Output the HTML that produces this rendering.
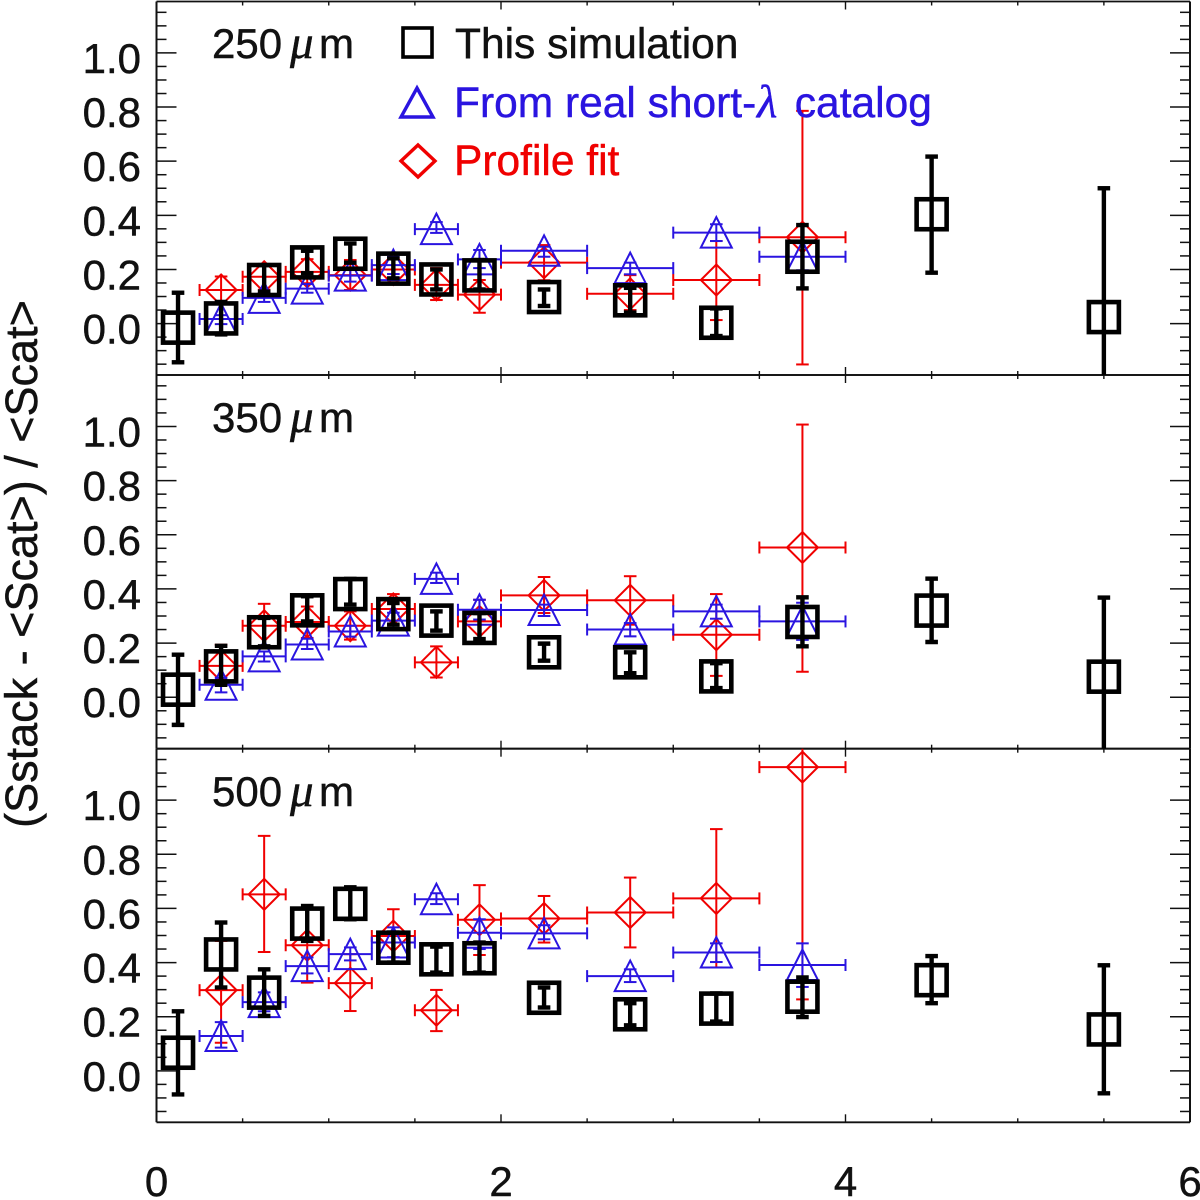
<!DOCTYPE html>
<html lang="en">
<head>
<meta charset="utf-8">
<title>Stacking flux bias versus flux</title>
<style>
html,body{margin:0;padding:0;background:#fff;}
svg{display:block;}
text{font-family:"Liberation Sans",sans-serif;stroke-width:.45;}
.sym{font-family:"Liberation Serif",serif;font-style:italic;font-size:47px;}
</style>
</head>
<body>
<svg id="chart" xmlns="http://www.w3.org/2000/svg" width="1200" height="1200" viewBox="0 0 1200 1200">
  <rect x="0" y="0" width="1200" height="1200" fill="#fff"/>
  <defs>
    <clipPath id="clip-0"><rect x="156.5" y="1.5" width="1033.5" height="373.5"/></clipPath>
    <clipPath id="clip-1"><rect x="156.5" y="375" width="1033.5" height="373.7"/></clipPath>
    <clipPath id="clip-2"><rect x="156.5" y="748.7" width="1033.5" height="373.6"/></clipPath>
  </defs>
  <g id="axes"></g>
  <g id="panel-0" clip-path="url(#clip-0)"></g>
  <g id="panel-1" clip-path="url(#clip-1)"></g>
  <g id="panel-2" clip-path="url(#clip-2)"></g>

  <text x="212" y="58" font-size="42" fill="#111" stroke="#111">250<tspan class="sym" x="290">μ</tspan><tspan x="319">m</tspan></text>
  <text x="212" y="432" font-size="42" fill="#111" stroke="#111">350<tspan class="sym" x="290">μ</tspan><tspan x="319">m</tspan></text>
  <text x="212" y="806" font-size="42" fill="#111" stroke="#111">500<tspan class="sym" x="290">μ</tspan><tspan x="319">m</tspan></text>

  <g>
    <rect x="403" y="28" width="29" height="29" fill="none" stroke="#000" stroke-width="3.6"/>
    <text x="455" y="58" font-size="42.5" fill="#111" stroke="#111">This simulation</text>
    <polygon points="417,88 433,117 401,117" fill="none" stroke="#2a14e0" stroke-width="3.4"/>
    <text x="454" y="117" font-size="42.5" fill="#2a14e0" stroke="#2a14e0">From real short-<tspan class="sym" x="757">λ</tspan><tspan x="783"> catalog</tspan></text>
    <polygon points="418,145 435,161 418,177 401,161" fill="none" stroke="#f00000" stroke-width="3.4"/>
    <text x="454" y="175" font-size="42.5" fill="#f00000" stroke="#f00000">Profile fit</text>
  </g>

  <text transform="translate(37,564) rotate(-90)" text-anchor="middle" font-size="45" fill="#111" stroke="#111">(Sstack - &lt;Scat&gt;) / &lt;Scat&gt;</text>

  <script>
  // ---- Data ----
  const simX = [0.125,0.375,0.625,0.875,1.125,1.375,1.625,1.875,2.25,2.75,3.25,3.75,4.5,5.5];
  const binX = [0.375,0.625,0.875,1.125,1.375,1.625,1.875,2.25,2.75,3.25,3.75];
  const binHalf = [0.125,0.125,0.125,0.125,0.125,0.125,0.125,0.25,0.25,0.25,0.25];

  const sim250 = [-0.015,0.019,0.161,0.226,0.258,0.203,0.163,0.178,0.098,0.086,0.003,0.247,0.404,0.024];
  const sim250Hi = [0.114,0.08,0.216,0.269,0.296,0.241,0.2,0.235,0.126,0.132,0.056,0.364,0.617,0.5];
  const sim250Lo = [-0.143,-0.04,0.118,0.186,0.225,0.167,0.126,0.126,0.065,0.041,-0.046,0.13,0.188,-0.45];
  const short250 = [0.017,0.095,0.129,0.177,0.216,0.349,0.237,0.269,0.205,0.336,0.247];
  const short250Hi = [0.031,0.114,0.146,0.2,0.247,0.375,0.272,0.284,0.225,0.367,0.297];
  const short250Lo = [-0.002,0.08,0.114,0.155,0.183,0.335,0.205,0.247,0.182,0.305,0.197];
  const fit250 = [0.124,0.173,0.191,0.179,0.2,0.143,0.107,0.225,0.11,0.161,0.319];
  const fit250Hi = [0.174,0.216,0.238,0.235,0.24,0.205,0.161,0.29,0.179,0.305,0.786];
  const fit250Lo = [0.074,0.125,0.149,0.124,0.16,0.087,0.04,0.16,0.05,0.013,-0.151];

  const sim350 = [0.028,0.114,0.24,0.321,0.381,0.307,0.283,0.256,0.166,0.129,0.077,0.278,0.32,0.076];
  const sim350Hi = [0.157,0.19,0.293,0.373,0.437,0.348,0.317,0.311,0.198,0.166,0.126,0.369,0.438,0.368];
  const sim350Lo = [-0.102,0.046,0.188,0.28,0.342,0.268,0.246,0.215,0.135,0.089,0.034,0.188,0.204,-0.45];
  const short350 = [0.046,0.151,0.195,0.243,0.283,0.437,0.323,0.322,0.25,0.317,0.28];
  const short350Hi = [0.072,0.169,0.216,0.264,0.312,0.46,0.36,0.342,0.274,0.342,0.349];
  const short350Lo = [0.018,0.132,0.178,0.224,0.25,0.422,0.287,0.3,0.225,0.29,0.212];
  const fit350 = [0.116,0.264,0.278,0.264,0.326,0.129,0.28,0.376,0.358,0.231,0.553];
  const fit350Hi = [0.194,0.345,0.335,0.317,0.381,0.188,0.36,0.444,0.447,0.381,1.007];
  const fit350Lo = [0.046,0.183,0.219,0.213,0.268,0.073,0.206,0.311,0.268,0.079,0.094];

  const sim500 = [0.067,0.43,0.289,0.544,0.617,0.455,0.412,0.416,0.27,0.209,0.23,0.274,0.335,0.153];
  const sim500Hi = [0.22,0.548,0.375,0.609,0.678,0.511,0.459,0.474,0.308,0.25,0.286,0.345,0.424,0.39];
  const sim500Lo = [-0.087,0.308,0.203,0.48,0.56,0.4,0.363,0.363,0.234,0.168,0.182,0.199,0.25,-0.083];
  const short500 = [0.129,0.254,0.387,0.431,0.474,0.634,0.51,0.508,0.35,0.437,0.391];
  const short500Hi = [0.18,0.29,0.419,0.456,0.53,0.656,0.56,0.538,0.375,0.471,0.471];
  const short500Lo = [0.086,0.22,0.36,0.408,0.42,0.616,0.45,0.486,0.328,0.402,0.31];
  const fit500 = [0.298,0.652,0.464,0.324,0.498,0.224,0.558,0.563,0.585,0.637,1.122];
  const fit500Hi = [0.48,0.868,0.6,0.431,0.597,0.299,0.686,0.646,0.714,0.893,1.6];
  const fit500Lo = [0.104,0.439,0.326,0.221,0.4,0.147,0.428,0.474,0.456,0.382,0.264];

  const xTickValues = [0,2,4,6];
  const xTickLabels = ["0","2","4","6"];
  const yTickValues = [0,0.2,0.4,0.6,0.8,1.0];
  const yTickLabels = ["0.0","0.2","0.4","0.6","0.8","1.0"];

  const simSets = [[sim250,sim250Hi,sim250Lo],[sim350,sim350Hi,sim350Lo],[sim500,sim500Hi,sim500Lo]];
  const shortSets = [[short250,short250Hi,short250Lo],[short350,short350Hi,short350Lo],[short500,short500Hi,short500Lo]];
  const fitSets = [[fit250,fit250Hi,fit250Lo],[fit350,fit350Hi,fit350Lo],[fit500,fit500Hi,fit500Lo]];

  // ---- Axis functions ----
  const NS = 'http://www.w3.org/2000/svg';
  const plotLeft = 156.5, plotRight = 1190;
  const panelTop = [1.5,375,748.7], panelBottom = [375,748.7,1122.3];
  const yMin = -0.19, yMax = 1.19, xMin = 0, xMax = 6;
  const BLUE = '#2a14e0', RED = '#f00000', BLACK = '#000';
  function xs(v){ return plotLeft + (v-xMin)/(xMax-xMin)*(plotRight-plotLeft); }
  function ys(p,v){ return panelBottom[p] - (v-yMin)/(yMax-yMin)*(panelBottom[p]-panelTop[p]); }

  function drawLine(parent,x1,y1,x2,y2,color,width,name){
    const el = document.createElementNS(NS,'line');
    el.setAttribute('x1',x1); el.setAttribute('y1',y1);
    el.setAttribute('x2',x2); el.setAttribute('y2',y2);
    el.setAttribute('stroke',color); el.setAttribute('stroke-width',width);
    
    
    parent.appendChild(el);
    return el;
  }
  function drawGroup(parent,name){
    const el = document.createElementNS(NS,'g');
    
    
    parent.appendChild(el);
    return el;
  }
  function drawLabel(parent,x,y,txt,anchor,name){
    const el = document.createElementNS(NS,'text');
    el.setAttribute('x',x); el.setAttribute('y',y);
    el.setAttribute('font-size','42'); el.setAttribute('fill','#111'); el.setAttribute('stroke','#111');
    el.setAttribute('text-anchor',anchor);
    el.textContent = txt;
    
    
    parent.appendChild(el);
    return el;
  }
  function drawVerticalError(g,cx,hi,lo,p,color,width){
    const yHi = ys(p,hi), yLo = ys(p,lo);
    drawLine(g,cx,yHi,cx,yLo,color,width,'y-error-bar');
    drawLine(g,cx-6.3,yHi,cx+6.3,yHi,color,width,'y-error-cap-upper');
    drawLine(g,cx-6.3,yLo,cx+6.3,yLo,color,width,'y-error-cap-lower');
  }
  function drawHorizontalError(g,xv,half,cy,color,width){
    const x0 = xs(xv-half), x1 = xs(xv+half);
    drawLine(g,x0,cy,x1,cy,color,width,'x-error-bar');
    drawLine(g,x0,cy-6,x0,cy+6,color,width,'x-error-cap-left');
    drawLine(g,x1,cy-6,x1,cy+6,color,width,'x-error-cap-right');
  }
  function drawSimPoints(p){
    const set = simSets[p];
    const series = drawGroup(document.getElementById('panel-'+p),'simulation-series');
    simX.forEach(function(xv,i){
      const g = drawGroup(series,'simulation-point');
      const cx = xs(xv), cy = ys(p,set[0][i]);
      drawVerticalError(g,cx,set[1][i],set[2][i],p,BLACK,4.4);
      const el = document.createElementNS(NS,'rect');
      el.setAttribute('x',cx-15); el.setAttribute('y',cy-15);
      el.setAttribute('width',30); el.setAttribute('height',30);
      el.setAttribute('fill','none'); el.setAttribute('stroke',BLACK); el.setAttribute('stroke-width',4.6);
      
      
      g.appendChild(el);
    });
  }
  function drawBinnedPoints(p,set,color,seriesName,shape){
    const series = drawGroup(document.getElementById('panel-'+p),seriesName);
    binX.forEach(function(xv,i){
      const g = drawGroup(series,seriesName+'-point');
      const cx = xs(xv), cy = ys(p,set[0][i]);
      drawVerticalError(g,cx,set[1][i],set[2][i],p,color,2);
      drawHorizontalError(g,xv,binHalf[i],cy,color,2);
      const el = document.createElementNS(NS,'polygon');
      const pts = shape==='triangle'
        ? [[cx,cy-15.5],[cx+15.5,cy+15],[cx-15.5,cy+15]]
        : [[cx,cy-15.5],[cx+15.5,cy],[cx,cy+15.5],[cx-15.5,cy]];
      el.setAttribute('points',pts.map(function(q){return q[0]+','+q[1];}).join(' '));
      el.setAttribute('fill','none'); el.setAttribute('stroke',color); el.setAttribute('stroke-width',2);
      
      
      g.appendChild(el);
    });
  }
  function drawAxes(p){
    const axes = drawGroup(document.getElementById('axes'),'panel-axes');
    const top = panelTop[p], bottom = panelBottom[p];
    const color = '#111';
    drawLine(axes,plotLeft,top,plotRight,top,color,1.8,'x-axis-top-line');
    drawLine(axes,plotLeft,bottom,plotRight,bottom,color,1.8,'x-axis-bottom-line');
    drawLine(axes,plotLeft,top,plotLeft,bottom,color,2,'y-axis-left-line');
    drawLine(axes,plotRight,top,plotRight,bottom,color,2,'y-axis-right-line');
    // x ticks every 0.5, longer at every labelled value
    for(let k=1;k<12;k++){
      const v = k*0.5;
      const major = xTickValues.indexOf(v)>=0;
      const len = major?8:4;
      drawLine(axes,xs(v),bottom,xs(v),bottom-len,color,1.4,'x-tick');
      drawLine(axes,xs(v),top,xs(v),top+len,color,1.4,'x-tick');
    }
    // y ticks every 0.05, longer at every labelled value
    for(let k=-3;k<=23;k++){
      const v = k*0.05;
      const major = k%4===0 && k>=0 && k<=20;
      const len = major?20:10;
      drawLine(axes,plotLeft,ys(p,v),plotLeft+len,ys(p,v),color,1.5,'y-tick-left');
      drawLine(axes,plotRight,ys(p,v),plotRight-len,ys(p,v),color,1.5,'y-tick-right');
    }
    yTickValues.forEach(function(v,i){
      drawLabel(axes,141,ys(p,v)+20,yTickLabels[i],'end','y-tick-label');
    });
  }
  [0,1,2].forEach(function(p){
    drawAxes(p);
    drawBinnedPoints(p,fitSets[p],RED,'profile-fit','diamond');
    drawBinnedPoints(p,shortSets[p],BLUE,'short-lambda','triangle');
    drawSimPoints(p);
  });
  xTickValues.forEach(function(v,i){
    drawLabel(document.getElementById('axes'),xs(v),1196,xTickLabels[i],'middle','x-tick-label');
  });
  </script>
</svg>
</body>
</html>
